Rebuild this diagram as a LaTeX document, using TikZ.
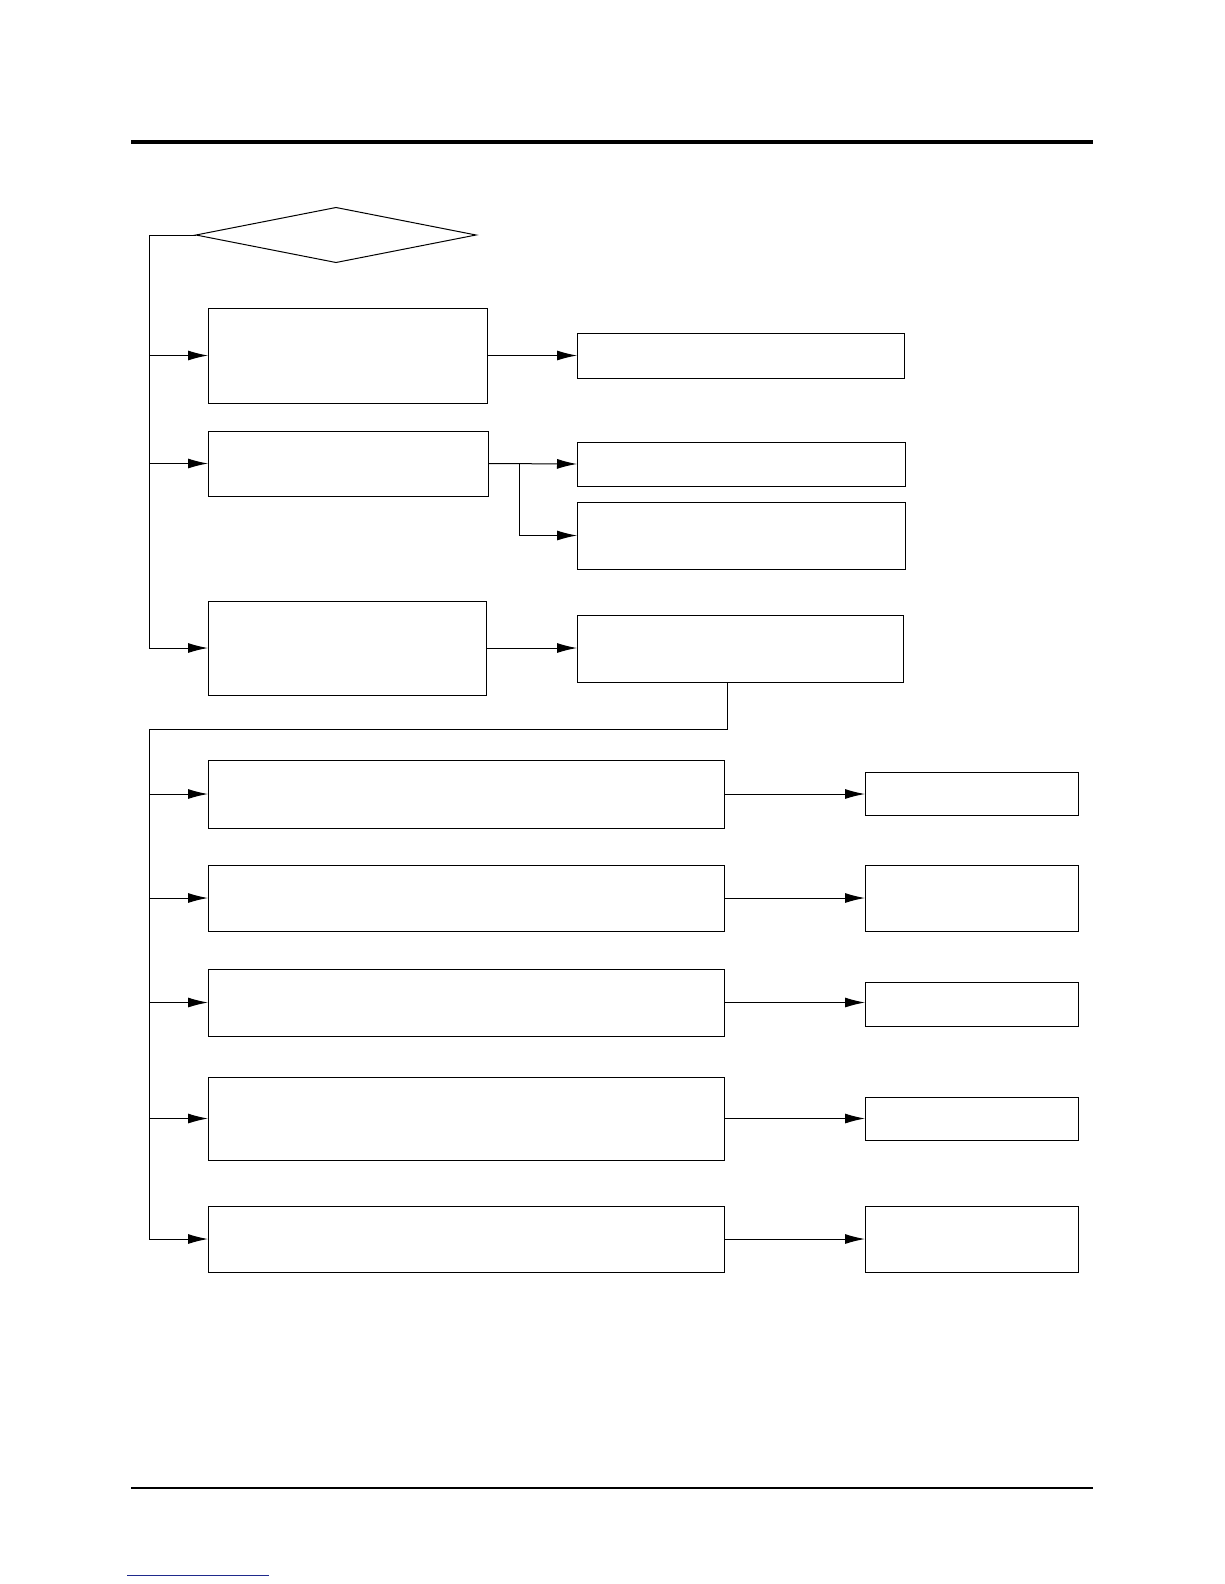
\documentclass[tikz,border=0pt]{standalone}
\usetikzlibrary{arrows.meta, positioning, shapes.geometric, calc}
\definecolor{linkblue}{HTML}{1F2A8C}
\tikzset{
  box/.style={rectangle, draw=black, line width=1pt, fill=white,
    inner sep=0pt, outer sep=0pt, anchor=north west},
  decision/.style={diamond, draw=black, line width=1pt, inner sep=0pt,
    outer sep=0pt, minimum width=280pt, minimum height=55pt},
  arrow/.style={-{Latex[length=20pt, width=10pt]}, line width=1pt, black},
  wire/.style={line width=1pt, black},
}
\begin{document}
\begin{tikzpicture}[x=1pt, y=-1pt]
\useasboundingbox (0,0) rectangle (1224,1584);
% page rules
\draw[line width=4pt] (131,142) -- (1093,142);
\draw[line width=2pt] (131,1488) -- (1093,1488);
\draw[linkblue, line width=1pt] (127,1575) -- (269,1575);

% upper part
\node[decision] (dec) at (336,235) {};
\node[box, minimum width=279pt, minimum height=95pt] (chkA) at (208,308) {};
\node[box, minimum width=327pt, minimum height=45pt] (resA) at (577,333) {};
\node[box, minimum width=280pt, minimum height=65pt] (chkB) at (208,431) {};
\node[box, minimum width=328pt, minimum height=44pt] (resB) at (577,442) {};
\node[box, minimum width=328pt, minimum height=67pt] (resC) at (577,502) {};
\node[box, minimum width=278pt, minimum height=94pt] (chkD) at (208,601) {};
\node[box, minimum width=326pt, minimum height=67pt] (resD) at (577,615) {};

\coordinate (trunkA) at (149,235);
\coordinate (splitB) at (519,0);
\draw[wire] (dec.west) -- (trunkA);
\draw[arrow] (trunkA) |- (chkD.west);
\draw[arrow] (trunkA |- chkA.west) -- (chkA.west);
\draw[arrow] (trunkA |- chkB.west) -- (chkB.west);
\draw[arrow] (chkA.east) -- (resA.west);
\draw[arrow] (chkB.east) -- (resB.west);
\draw[arrow] (splitB |- resB.west) |- (resC.west);
\draw[arrow] (chkD.east) -- (chkD.east -| resD.west);

% lower part
\coordinate (drop) at ($(resD.south west)+(150,0)$);
\coordinate (trunkB) at (149,729);
\foreach \n/\ly/\lh/\ry/\rh in {1/760/68/772/43, 2/865/66/865/66, 3/969/67/982/44,
    4/1077/83/1097/43, 5/1206/66/1206/66} {
  \node[box, minimum width=516pt, minimum height=\lh pt] (step\n) at (208,\ly) {};
  \node[box, minimum width=213pt, minimum height=\rh pt] (out\n) at (865,\ry) {};
  \draw[arrow] (trunkB |- step\n.west) -- (step\n.west);
  \draw[arrow] (step\n.east) -- (step\n.east -| out\n.west);
}
\draw[wire] (drop) |- (trunkB) -- (trunkB |- step5.west);
\end{tikzpicture}
\end{document}
